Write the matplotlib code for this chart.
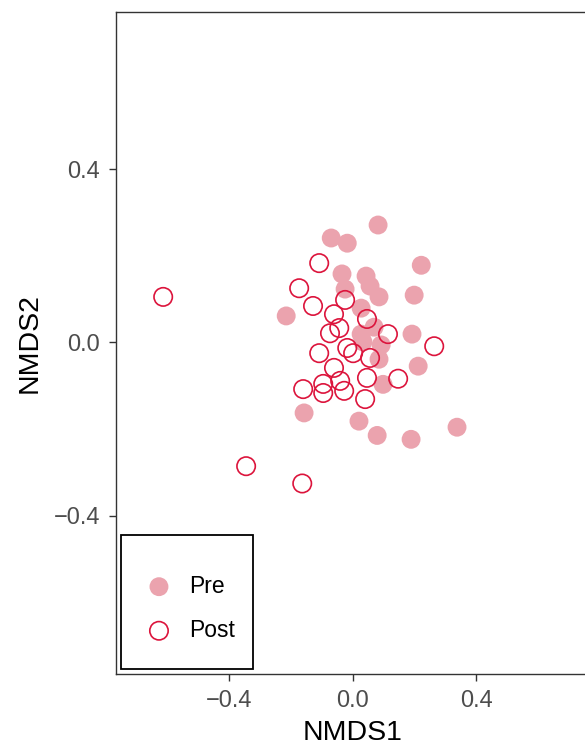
import matplotlib
matplotlib.use("Agg")
import matplotlib.pyplot as plt
from matplotlib.patches import Rectangle

plt.rcParams["font.family"] = ["Liberation Sans", "DejaVu Sans"]

# NMDS site scores
pre_x = [0.082, -0.070, -0.018, 0.222, -0.035, 0.043, 0.056, 0.085, 0.199, -0.025,
         -0.216, 0.027, 0.027, 0.069, 0.192, 0.092, 0.033, 0.085, 0.212, 0.098,
         -0.158, 0.020, 0.079, 0.189, 0.338]
pre_y = [0.271, 0.241, 0.229, 0.178, 0.158, 0.153, 0.130, 0.105, 0.109, 0.123,
         0.061, 0.079, 0.019, 0.035, 0.019, -0.006, 0.001, -0.039, -0.055, -0.097,
         -0.163, -0.182, -0.215, -0.224, -0.196]

post_x = [-0.615, -0.109, -0.174, -0.129, -0.025, -0.061, 0.046, -0.074, -0.044, 0.114,
          0.264, -0.109, -0.018, 0.001, 0.056, -0.061, 0.046, 0.147, -0.161, -0.096,
          -0.041, -0.096, -0.028, 0.040, -0.346, -0.164]
post_y = [0.105, 0.183, 0.125, 0.084, 0.098, 0.065, 0.054, 0.021, 0.033, 0.019,
          -0.009, -0.025, -0.013, -0.025, -0.036, -0.059, -0.082, -0.084, -0.108, -0.096,
          -0.089, -0.117, -0.112, -0.131, -0.286, -0.326]

groups = ["Pre", "Post"]
ticks = [-0.4, 0.0, 0.4]
tick_labels = ["\u22120.4", "0.0", "0.4"]

pre_color = "#EBA3AE"
post_color = "#DC143C"

fig = plt.figure(figsize=(5.85, 7.47), dpi=100)
ax = fig.add_axes([116 / 585, 1 - 674 / 747, 473 / 585, 662 / 747])

ax.scatter(pre_x, pre_y, s=185, color=pre_color, edgecolors="none",
           label=groups[0], zorder=2)
ax.scatter(post_x, post_y, s=175, facecolors="none", edgecolors=post_color,
           linewidths=1.2, label=groups[1], zorder=3)

ax.set_xlim(-0.768, 0.766)
ax.set_ylim(-0.766, 0.763)
ax.set_xticks(ticks)
ax.set_xticklabels(tick_labels)
ax.set_yticks(ticks)
ax.set_yticklabels(tick_labels)

for sp in ax.spines.values():
    sp.set_color("#333333")
    sp.set_linewidth(1.0)

ax.tick_params(axis="both", length=5, width=1.0, color="#333333",
               labelsize=17, labelcolor="#4D4D4D", pad=6.5)

ax.set_xlabel("NMDS1", fontsize=20.5, color="black", labelpad=6)
ax.set_ylabel("NMDS2", fontsize=20.5, color="black", labelpad=8)

# legend box (white panel with black border) in the lower-left corner
ax.add_patch(Rectangle((0.0106, 0.0076), 0.279, 0.2024, transform=ax.transAxes,
                       facecolor="white", edgecolor="black", linewidth=1.3,
                       zorder=4))

leg = ax.legend(loc="upper left", bbox_to_anchor=(0.0533, 0.150),
                borderaxespad=0, borderpad=0, fontsize=16.5, frameon=False,
                handletextpad=0.54, labelspacing=0.92, handlelength=1.55)
leg.set_zorder(5)

fig.savefig("out.png", dpi=100)
